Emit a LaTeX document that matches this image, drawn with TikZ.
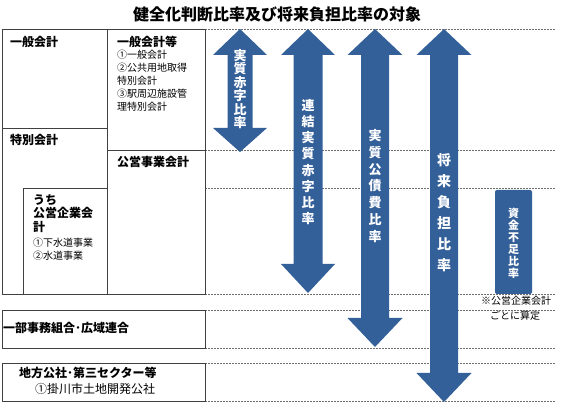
\documentclass[tikz,border=0pt]{standalone}
\usepackage{fontspec}
\setmainfont{Noto Sans CJK JP}
\definecolor{arrowblue}{RGB}{52,96,154}
\definecolor{boxline}{RGB}{64,64,64}
\definecolor{dashgray}{RGB}{110,110,110}
\newcommand\dblarrow[6]{% cx, shaft half, head half, top tip, lower head base, lower tip
  \fill[arrowblue] (#1,#4) -- (#1+#3,55) -- (#1+#2,55) -- (#1+#2,#5) -- (#1+#3,#5)
    -- (#1,#6) -- (#1-#3,#5) -- (#1-#2,#5) -- (#1-#2,55) -- (#1-#3,55) -- cycle;}
\begin{document}
\begin{tikzpicture}[x=1pt,y=-1pt,
  box/.style={draw=boxline,line width=0.8pt},
  guide/.style={draw=dashgray,line width=0.6pt,dash pattern=on 2pt off 1pt},
  head/.style={anchor=north west,inner sep=0pt,font=\fontsize{12}{14}\selectfont\bfseries,align=left},
  small/.style={anchor=north west,inner sep=0pt,font=\fontsize{10}{13}\selectfont,align=left},
  vtext/.style={text=white,inner sep=0pt,align=center,font=\bfseries}]
\useasboundingbox (0,0) rectangle (568,403);
\fill[white] (0,0) rectangle (568,403);
% title
\node[inner sep=0pt,font=\fontsize{16}{18}\selectfont\bfseries] (title) at (277,14) {健全化判断比率及び将来負担比率の対象};
% dashed guides
\foreach \yy in {29,150,188,294,310,348,363,401}
  \draw[guide] (205,\yy) -- (555,\yy);
% left table
\draw[box] (2,29) rectangle (205,294);
\draw[box] (107,29) -- (107,294);
\draw[box] (2,128) -- (107,128);
\draw[box] (107,150) -- (205,150);
\draw[box] (23,188) rectangle (107,294);
\draw[box] (2,310) rectangle (205,348);
\draw[box] (2,363) rectangle (205,401);
% left texts
\node[head] (ippan) at (10,36) {一般会計};
\node[head] (ippanto) at (117,36) {一般会計等};
\node[small] (ippanlist) at (117,50) {①一般会計\\②公共用地取得\\特別会計\\③駅周辺施設管\\理特別会計};
\node[head] (tokubetsu) at (10,134) {特別会計};
\node[head] (koei) at (117,156) {公営事業会計};
\node[head,font=\fontsize{12}{13.5}\selectfont\bfseries] (uchi) at (33,194) {うち\\公営企業会\\計};
\node[small] (uchilist) at (33,238) {①下水道事業\\②水道事業};
\node[head] (ichibu) at (3,322) {一部事務組合･広域連合};
\node[head] (chiho) at (19,367) {地方公社･第三セクター等};
\node[anchor=north west,inner sep=0pt,font=\fontsize{12}{14}\selectfont] (kakegawa) at (35,383) {①掛川市土地開発公社};
% arrows
\dblarrow{240}{12.5}{27}{29}{128}{152}
\dblarrow{308}{14.5}{27}{29}{264}{293}
\dblarrow{375}{14}{27.5}{29}{318}{347}
\dblarrow{444}{14}{27.5}{29}{373}{402}
\fill[arrowblue,rounded corners=2pt] (495,190) rectangle (532,294);
% arrow texts
\node[vtext,font=\fontsize{13}{13.5}\selectfont\bfseries] (a1) at (240,89) {実\\質\\赤\\字\\比\\率};
\node[vtext,font=\fontsize{13}{16.25}\selectfont\bfseries] (a2) at (308,162) {連\\結\\実\\質\\赤\\字\\比\\率};
\node[vtext,font=\fontsize{13}{16.9}\selectfont\bfseries] (a3) at (375,186) {実\\質\\公\\債\\費\\比\\率};
\node[vtext,font=\fontsize{14}{21}\selectfont\bfseries] (a4) at (444,213) {将\\来\\負\\担\\比\\率};
\node[vtext,font=\fontsize{11}{12}\selectfont\bfseries] (a5) at (513.5,243) {資\\金\\不\\足\\比\\率};
% note
\node[anchor=north,inner sep=0pt,align=left,font=\fontsize{10}{15}\selectfont] (note) at (516,296) {※公営企業会計\\\hspace*{0.9em}ごとに算定};
\end{tikzpicture}
\end{document}
